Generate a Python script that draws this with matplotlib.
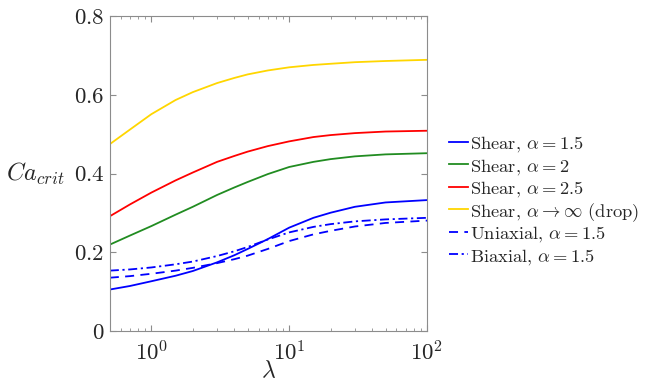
import matplotlib
matplotlib.use("Agg")
import matplotlib.pyplot as plt
from matplotlib.lines import Line2D
from matplotlib.ticker import FixedLocator, FuncFormatter, LogLocator

plt.rcParams['font.family'] = 'serif'
plt.rcParams['font.serif'] = ['cmr10']
plt.rcParams['mathtext.fontset'] = 'cm'
plt.rcParams['axes.formatter.use_mathtext'] = True
plt.rcParams['axes.unicode_minus'] = False

lam = [0.5, 0.7, 1, 1.5, 2, 3, 4, 5, 7, 10, 15, 20, 30, 50, 100]
shear_a15 = [0.106, 0.115, 0.127, 0.141, 0.153, 0.175, 0.193, 0.209, 0.234, 0.263, 0.288, 0.301, 0.316, 0.327, 0.333]
shear_a2 = [0.220, 0.243, 0.267, 0.296, 0.316, 0.346, 0.365, 0.379, 0.399, 0.417, 0.430, 0.437, 0.444, 0.449, 0.452]
shear_a25 = [0.292, 0.322, 0.352, 0.383, 0.403, 0.430, 0.445, 0.456, 0.470, 0.482, 0.493, 0.498, 0.503, 0.507, 0.509]
shear_drop = [0.475, 0.512, 0.551, 0.587, 0.607, 0.630, 0.643, 0.652, 0.662, 0.670, 0.676, 0.679, 0.683, 0.686, 0.689]
uniax_a15 = [0.136, 0.140, 0.146, 0.154, 0.161, 0.173, 0.183, 0.192, 0.209, 0.229, 0.246, 0.255, 0.266, 0.275, 0.281]
biax_a15 = [0.154, 0.157, 0.162, 0.170, 0.177, 0.191, 0.203, 0.214, 0.233, 0.251, 0.265, 0.272, 0.279, 0.284, 0.288]

labels = [r'Shear, $\alpha = 1.5$', r'Shear, $\alpha = 2$', r'Shear, $\alpha = 2.5$',
          r'Shear, $\alpha \rightarrow \infty$ (drop)', r'Uniaxial, $\alpha = 1.5$',
          r'Biaxial, $\alpha = 1.5$']
yticks = [0, 0.2, 0.4, 0.6, 0.8]

W, H = 646, 383
fig = plt.figure(figsize=(W / 100, H / 100), dpi=100)
ax = fig.add_axes([0.170, 0.135, 0.491, 0.823])

lw = 1.3
styles = [
    dict(color=(0, 0, 1), ls='-'),
    dict(color=(0.13, 0.55, 0.13), ls='-'),
    dict(color=(1, 0, 0), ls='-'),
    dict(color=(1.0, 0.84, 0.0), ls='-'),
    dict(color=(0, 0, 1), ls=(0, (5, 3.5))),
    dict(color=(0, 0, 1), ls=(0, (5, 2, 1.2, 2))),
]
series = [shear_a15, shear_a2, shear_a25, shear_drop, uniax_a15, biax_a15]
for ys, st, lab in zip(series, styles, labels):
    ax.plot(lam, ys, lw=lw, label=lab, **st)

ax.set_xscale('log')
ax.set_xlim(0.5, 100)
ax.set_ylim(0, 0.8)
ax.yaxis.set_major_locator(FixedLocator(yticks))
ax.yaxis.set_major_formatter(FuncFormatter(lambda v, p: '$0$' if v == 0 else '$%g$' % v))
ax.xaxis.set_major_locator(LogLocator(base=10, numticks=10))

gray = '#8c8c8c'
for s in ax.spines.values():
    s.set_color(gray)
    s.set_linewidth(0.8)
ax.tick_params(which='both', direction='in', top=True, right=True, color=gray,
               labelcolor='#262626', labelsize=16.5)
ax.tick_params(which='major', length=4)
ax.tick_params(which='minor', length=2.5)
ax.tick_params(axis='x', pad=6)
ax.tick_params(axis='y', pad=4)

ax.set_xlabel(r'$\lambda$', fontsize=17, color='#262626')
ax.xaxis.set_label_coords(0.5, -0.092)
ax.set_ylabel(r'$Ca_{crit}$', fontsize=17.5, color='#262626', rotation=0,
              ha='right', va='center')
ax.yaxis.set_label_coords(-0.142, 0.50)

# legend (manual, uniform row spacing as in the reference)
row0, drow = 141.5, 22.5
x0, x1, xt = 449, 468, 470
for i, (st, lab) in enumerate(zip(styles, labels)):
    yc = 1 - (row0 + i * drow) / H
    fig.add_artist(Line2D([x0 / W, x1 / W], [yc, yc], lw=lw, transform=fig.transFigure, **st))
    fig.text(xt / W, yc, lab, fontsize=13.3, color='#262626', ha='left', va='center_baseline')

fig.savefig('out.png', dpi=100)
